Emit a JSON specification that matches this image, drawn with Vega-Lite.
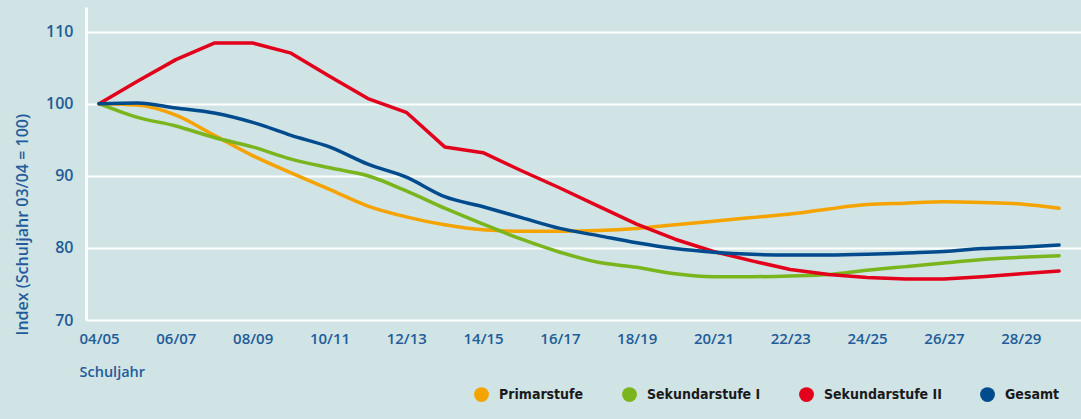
{
  "$schema": "https://vega.github.io/schema/vega-lite/v6.json",
  "autosize": {"type": "none"},
  "width": 995,
  "height": 313,
  "padding": {"left": 86, "top": 7, "right": 0, "bottom": 99},
  "background": "#d0e3e5",
  "config": {
    "view": {"stroke": null, "fill": "#d0e3e5"},
    "font": "Open Sans"
  },
  "datasets": {
    "werte": [
      {"Jahr": 2004, "Schuljahr": "04/05", "Stufe": "Primarstufe", "Index": 100},
      {"Jahr": 2005, "Schuljahr": "05/06", "Stufe": "Primarstufe", "Index": 99.8},
      {"Jahr": 2006, "Schuljahr": "06/07", "Stufe": "Primarstufe", "Index": 98.4},
      {"Jahr": 2007, "Schuljahr": "07/08", "Stufe": "Primarstufe", "Index": 95.6},
      {"Jahr": 2008, "Schuljahr": "08/09", "Stufe": "Primarstufe", "Index": 92.8},
      {"Jahr": 2009, "Schuljahr": "09/10", "Stufe": "Primarstufe", "Index": 90.4},
      {"Jahr": 2010, "Schuljahr": "10/11", "Stufe": "Primarstufe", "Index": 88.1},
      {"Jahr": 2011, "Schuljahr": "11/12", "Stufe": "Primarstufe", "Index": 85.8},
      {"Jahr": 2012, "Schuljahr": "12/13", "Stufe": "Primarstufe", "Index": 84.3},
      {"Jahr": 2013, "Schuljahr": "13/14", "Stufe": "Primarstufe", "Index": 83.2},
      {"Jahr": 2014, "Schuljahr": "14/15", "Stufe": "Primarstufe", "Index": 82.5},
      {"Jahr": 2015, "Schuljahr": "15/16", "Stufe": "Primarstufe", "Index": 82.3},
      {"Jahr": 2016, "Schuljahr": "16/17", "Stufe": "Primarstufe", "Index": 82.3},
      {"Jahr": 2017, "Schuljahr": "17/18", "Stufe": "Primarstufe", "Index": 82.4},
      {"Jahr": 2018, "Schuljahr": "18/19", "Stufe": "Primarstufe", "Index": 82.7},
      {"Jahr": 2019, "Schuljahr": "19/20", "Stufe": "Primarstufe", "Index": 83.2},
      {"Jahr": 2020, "Schuljahr": "20/21", "Stufe": "Primarstufe", "Index": 83.7},
      {"Jahr": 2021, "Schuljahr": "21/22", "Stufe": "Primarstufe", "Index": 84.2},
      {"Jahr": 2022, "Schuljahr": "22/23", "Stufe": "Primarstufe", "Index": 84.7},
      {"Jahr": 2023, "Schuljahr": "23/24", "Stufe": "Primarstufe", "Index": 85.4},
      {"Jahr": 2024, "Schuljahr": "24/25", "Stufe": "Primarstufe", "Index": 86.0},
      {"Jahr": 2025, "Schuljahr": "25/26", "Stufe": "Primarstufe", "Index": 86.2},
      {"Jahr": 2026, "Schuljahr": "26/27", "Stufe": "Primarstufe", "Index": 86.4},
      {"Jahr": 2027, "Schuljahr": "27/28", "Stufe": "Primarstufe", "Index": 86.3},
      {"Jahr": 2028, "Schuljahr": "28/29", "Stufe": "Primarstufe", "Index": 86.1},
      {"Jahr": 2029, "Schuljahr": "29/30", "Stufe": "Primarstufe", "Index": 85.5},

      {"Jahr": 2004, "Schuljahr": "04/05", "Stufe": "Sekundarstufe I", "Index": 100},
      {"Jahr": 2005, "Schuljahr": "05/06", "Stufe": "Sekundarstufe I", "Index": 98.1},
      {"Jahr": 2006, "Schuljahr": "06/07", "Stufe": "Sekundarstufe I", "Index": 96.9},
      {"Jahr": 2007, "Schuljahr": "07/08", "Stufe": "Sekundarstufe I", "Index": 95.3},
      {"Jahr": 2008, "Schuljahr": "08/09", "Stufe": "Sekundarstufe I", "Index": 94.0},
      {"Jahr": 2009, "Schuljahr": "09/10", "Stufe": "Sekundarstufe I", "Index": 92.3},
      {"Jahr": 2010, "Schuljahr": "10/11", "Stufe": "Sekundarstufe I", "Index": 91.1},
      {"Jahr": 2011, "Schuljahr": "11/12", "Stufe": "Sekundarstufe I", "Index": 90.0},
      {"Jahr": 2012, "Schuljahr": "12/13", "Stufe": "Sekundarstufe I", "Index": 87.9},
      {"Jahr": 2013, "Schuljahr": "13/14", "Stufe": "Sekundarstufe I", "Index": 85.5},
      {"Jahr": 2014, "Schuljahr": "14/15", "Stufe": "Sekundarstufe I", "Index": 83.3},
      {"Jahr": 2015, "Schuljahr": "15/16", "Stufe": "Sekundarstufe I", "Index": 81.2},
      {"Jahr": 2016, "Schuljahr": "16/17", "Stufe": "Sekundarstufe I", "Index": 79.4},
      {"Jahr": 2017, "Schuljahr": "17/18", "Stufe": "Sekundarstufe I", "Index": 78.0},
      {"Jahr": 2018, "Schuljahr": "18/19", "Stufe": "Sekundarstufe I", "Index": 77.3},
      {"Jahr": 2019, "Schuljahr": "19/20", "Stufe": "Sekundarstufe I", "Index": 76.4},
      {"Jahr": 2020, "Schuljahr": "20/21", "Stufe": "Sekundarstufe I", "Index": 76.0},
      {"Jahr": 2021, "Schuljahr": "21/22", "Stufe": "Sekundarstufe I", "Index": 76.0},
      {"Jahr": 2022, "Schuljahr": "22/23", "Stufe": "Sekundarstufe I", "Index": 76.1},
      {"Jahr": 2023, "Schuljahr": "23/24", "Stufe": "Sekundarstufe I", "Index": 76.3},
      {"Jahr": 2024, "Schuljahr": "24/25", "Stufe": "Sekundarstufe I", "Index": 76.9},
      {"Jahr": 2025, "Schuljahr": "25/26", "Stufe": "Sekundarstufe I", "Index": 77.4},
      {"Jahr": 2026, "Schuljahr": "26/27", "Stufe": "Sekundarstufe I", "Index": 77.9},
      {"Jahr": 2027, "Schuljahr": "27/28", "Stufe": "Sekundarstufe I", "Index": 78.4},
      {"Jahr": 2028, "Schuljahr": "28/29", "Stufe": "Sekundarstufe I", "Index": 78.7},
      {"Jahr": 2029, "Schuljahr": "29/30", "Stufe": "Sekundarstufe I", "Index": 78.9},

      {"Jahr": 2004, "Schuljahr": "04/05", "Stufe": "Sekundarstufe II", "Index": 100},
      {"Jahr": 2005, "Schuljahr": "05/06", "Stufe": "Sekundarstufe II", "Index": 103.1},
      {"Jahr": 2006, "Schuljahr": "06/07", "Stufe": "Sekundarstufe II", "Index": 106.1},
      {"Jahr": 2007, "Schuljahr": "07/08", "Stufe": "Sekundarstufe II", "Index": 108.4},
      {"Jahr": 2008, "Schuljahr": "08/09", "Stufe": "Sekundarstufe II", "Index": 108.4},
      {"Jahr": 2009, "Schuljahr": "09/10", "Stufe": "Sekundarstufe II", "Index": 107.0},
      {"Jahr": 2010, "Schuljahr": "10/11", "Stufe": "Sekundarstufe II", "Index": 103.8},
      {"Jahr": 2011, "Schuljahr": "11/12", "Stufe": "Sekundarstufe II", "Index": 100.7},
      {"Jahr": 2012, "Schuljahr": "12/13", "Stufe": "Sekundarstufe II", "Index": 98.8},
      {"Jahr": 2013, "Schuljahr": "13/14", "Stufe": "Sekundarstufe II", "Index": 94.0},
      {"Jahr": 2014, "Schuljahr": "14/15", "Stufe": "Sekundarstufe II", "Index": 93.2},
      {"Jahr": 2015, "Schuljahr": "15/16", "Stufe": "Sekundarstufe II", "Index": 90.7},
      {"Jahr": 2016, "Schuljahr": "16/17", "Stufe": "Sekundarstufe II", "Index": 88.3},
      {"Jahr": 2017, "Schuljahr": "17/18", "Stufe": "Sekundarstufe II", "Index": 85.8},
      {"Jahr": 2018, "Schuljahr": "18/19", "Stufe": "Sekundarstufe II", "Index": 83.3},
      {"Jahr": 2019, "Schuljahr": "19/20", "Stufe": "Sekundarstufe II", "Index": 81.2},
      {"Jahr": 2020, "Schuljahr": "20/21", "Stufe": "Sekundarstufe II", "Index": 79.5},
      {"Jahr": 2021, "Schuljahr": "21/22", "Stufe": "Sekundarstufe II", "Index": 78.2},
      {"Jahr": 2022, "Schuljahr": "22/23", "Stufe": "Sekundarstufe II", "Index": 77.0},
      {"Jahr": 2023, "Schuljahr": "23/24", "Stufe": "Sekundarstufe II", "Index": 76.3},
      {"Jahr": 2024, "Schuljahr": "24/25", "Stufe": "Sekundarstufe II", "Index": 75.9},
      {"Jahr": 2025, "Schuljahr": "25/26", "Stufe": "Sekundarstufe II", "Index": 75.7},
      {"Jahr": 2026, "Schuljahr": "26/27", "Stufe": "Sekundarstufe II", "Index": 75.7},
      {"Jahr": 2027, "Schuljahr": "27/28", "Stufe": "Sekundarstufe II", "Index": 76.0},
      {"Jahr": 2028, "Schuljahr": "28/29", "Stufe": "Sekundarstufe II", "Index": 76.4},
      {"Jahr": 2029, "Schuljahr": "29/30", "Stufe": "Sekundarstufe II", "Index": 76.8},

      {"Jahr": 2004, "Schuljahr": "04/05", "Stufe": "Gesamt", "Index": 100},
      {"Jahr": 2005, "Schuljahr": "05/06", "Stufe": "Gesamt", "Index": 100.1},
      {"Jahr": 2006, "Schuljahr": "06/07", "Stufe": "Gesamt", "Index": 99.4},
      {"Jahr": 2007, "Schuljahr": "07/08", "Stufe": "Gesamt", "Index": 98.7},
      {"Jahr": 2008, "Schuljahr": "08/09", "Stufe": "Gesamt", "Index": 97.4},
      {"Jahr": 2009, "Schuljahr": "09/10", "Stufe": "Gesamt", "Index": 95.6},
      {"Jahr": 2010, "Schuljahr": "10/11", "Stufe": "Gesamt", "Index": 94.0},
      {"Jahr": 2011, "Schuljahr": "11/12", "Stufe": "Gesamt", "Index": 91.6},
      {"Jahr": 2012, "Schuljahr": "12/13", "Stufe": "Gesamt", "Index": 89.8},
      {"Jahr": 2013, "Schuljahr": "13/14", "Stufe": "Gesamt", "Index": 87.1},
      {"Jahr": 2014, "Schuljahr": "14/15", "Stufe": "Gesamt", "Index": 85.7},
      {"Jahr": 2015, "Schuljahr": "15/16", "Stufe": "Gesamt", "Index": 84.2},
      {"Jahr": 2016, "Schuljahr": "16/17", "Stufe": "Gesamt", "Index": 82.7},
      {"Jahr": 2017, "Schuljahr": "17/18", "Stufe": "Gesamt", "Index": 81.7},
      {"Jahr": 2018, "Schuljahr": "18/19", "Stufe": "Gesamt", "Index": 80.7},
      {"Jahr": 2019, "Schuljahr": "19/20", "Stufe": "Gesamt", "Index": 79.9},
      {"Jahr": 2020, "Schuljahr": "20/21", "Stufe": "Gesamt", "Index": 79.4},
      {"Jahr": 2021, "Schuljahr": "21/22", "Stufe": "Gesamt", "Index": 79.1},
      {"Jahr": 2022, "Schuljahr": "22/23", "Stufe": "Gesamt", "Index": 79.0},
      {"Jahr": 2023, "Schuljahr": "23/24", "Stufe": "Gesamt", "Index": 79.0},
      {"Jahr": 2024, "Schuljahr": "24/25", "Stufe": "Gesamt", "Index": 79.1},
      {"Jahr": 2025, "Schuljahr": "25/26", "Stufe": "Gesamt", "Index": 79.3},
      {"Jahr": 2026, "Schuljahr": "26/27", "Stufe": "Gesamt", "Index": 79.5},
      {"Jahr": 2027, "Schuljahr": "27/28", "Stufe": "Gesamt", "Index": 79.9},
      {"Jahr": 2028, "Schuljahr": "28/29", "Stufe": "Gesamt", "Index": 80.1},
      {"Jahr": 2029, "Schuljahr": "29/30", "Stufe": "Gesamt", "Index": 80.4}
    ],
    "striche": [
      {"Jahr": 2004}, {"Jahr": 2006}, {"Jahr": 2008}, {"Jahr": 2010}, {"Jahr": 2012},
      {"Jahr": 2014}, {"Jahr": 2016}, {"Jahr": 2018}, {"Jahr": 2020}, {"Jahr": 2022},
      {"Jahr": 2024}, {"Jahr": 2026}, {"Jahr": 2028}
    ]
  },
  "encoding": {
    "x": {
      "field": "Jahr",
      "type": "quantitative",
      "scale": {"domain": [2003.66, 2029.57], "nice": false, "zero": false},
      "axis": {
        "title": "Schuljahr",
        "values": [2004, 2006, 2008, 2010, 2012, 2014, 2016, 2018, 2020, 2022, 2024, 2026, 2028],
        "labelExpr": "slice('0' + (datum.value % 100), -2) + '/' + slice('0' + ((datum.value + 1) % 100), -2)",
        "grid": false,
        "domain": false,
        "ticks": false,
        "tickSize": 0,
        "labelPadding": 11,
        "labelFont": "Open Sans",
        "labelFontWeight": 600,
        "labelFontSize": 15,
        "labelColor": "#1f5c99",
        "labelFlush": false,
        "titleFont": "Open Sans",
        "titleFontWeight": 600,
        "titleFontSize": 14.5,
        "titleColor": "#1f5c99",
        "titleAnchor": "start",
        "titleAlign": "left",
        "titleBaseline": "middle",
        "titleX": -7,
        "titleY": 52
      }
    },
    "y": {
      "field": "Index",
      "type": "quantitative",
      "scale": {"domain": [70, 113.4], "nice": false, "zero": false},
      "axis": {
        "title": "Index (Schuljahr 03/04 = 100)",
        "values": [70, 80, 90, 100, 110],
        "grid": true,
        "gridColor": "#ffffff",
        "gridWidth": 2,
        "gridOpacity": 1,
        "domain": true,
        "domainColor": "#ffffff",
        "domainWidth": 3,
        "ticks": false,
        "tickSize": 0,
        "labelPadding": 13,
        "labelFont": "Open Sans",
        "labelFontWeight": 600,
        "labelFontSize": 16,
        "labelColor": "#1f5c99",
        "titleFont": "Open Sans",
        "titleFontWeight": 600,
        "titleFontSize": 16,
        "titleColor": "#1f5c99",
        "titleAngle": -90,
        "titleAlign": "left",
        "titleBaseline": "middle",
        "titleX": -64,
        "titleY": 328
      }
    },
    "color": {
      "field": "Stufe",
      "type": "nominal",
      "scale": {
        "domain": ["Primarstufe", "Sekundarstufe I", "Sekundarstufe II", "Gesamt"],
        "range": ["#f5a300", "#7ab51d", "#e3001b", "#004b8d"]
      },
      "legend": {
        "title": null,
        "orient": "none",
        "direction": "horizontal",
        "legendX": 388,
        "legendY": 380,
        "padding": 0,
        "symbolType": "circle",
        "symbolSize": 220,
        "symbolStrokeWidth": 0,
        "labelFont": "DejaVu Sans Condensed, DejaVu Sans, sans-serif",
        "labelFontWeight": "bold",
        "labelFontSize": 14,
        "labelColor": "#1a1a1a",
        "labelOffset": 10,
        "columnPadding": 38,
        "encode": {
          "symbols": {"update": {"fill": {"scale": "color", "field": "value"}, "fillOpacity": {"value": 1}, "strokeWidth": {"value": 0}}}
        }
      }
    }
  },
  "layer": [
    {
      "data": {"name": "striche"},
      "mark": {"type": "tick", "orient": "vertical", "color": "#ffffff", "size": 14, "thickness": 2, "opacity": 1},
      "encoding": {
        "x": {"field": "Jahr", "type": "quantitative"},
        "y": {"datum": 100, "type": "quantitative"},
        "color": null
      }
    },
    {
      "data": {"name": "werte"},
      "transform": [{"filter": "datum.Stufe === 'Primarstufe' || datum.Stufe === 'Sekundarstufe I'"}],
      "mark": {"type": "line", "interpolate": "monotone", "strokeWidth": 3.5, "strokeCap": "round", "strokeJoin": "round"}
    },
    {
      "data": {"name": "werte"},
      "transform": [{"filter": "datum.Stufe === 'Sekundarstufe II'"}],
      "mark": {"type": "line", "interpolate": "linear", "strokeWidth": 3.5, "strokeCap": "round", "strokeJoin": "round"}
    },
    {
      "data": {"name": "werte"},
      "transform": [{"filter": "datum.Stufe === 'Gesamt'"}],
      "mark": {"type": "line", "interpolate": "monotone", "strokeWidth": 3.5, "strokeCap": "round", "strokeJoin": "round"}
    }
  ]
}
